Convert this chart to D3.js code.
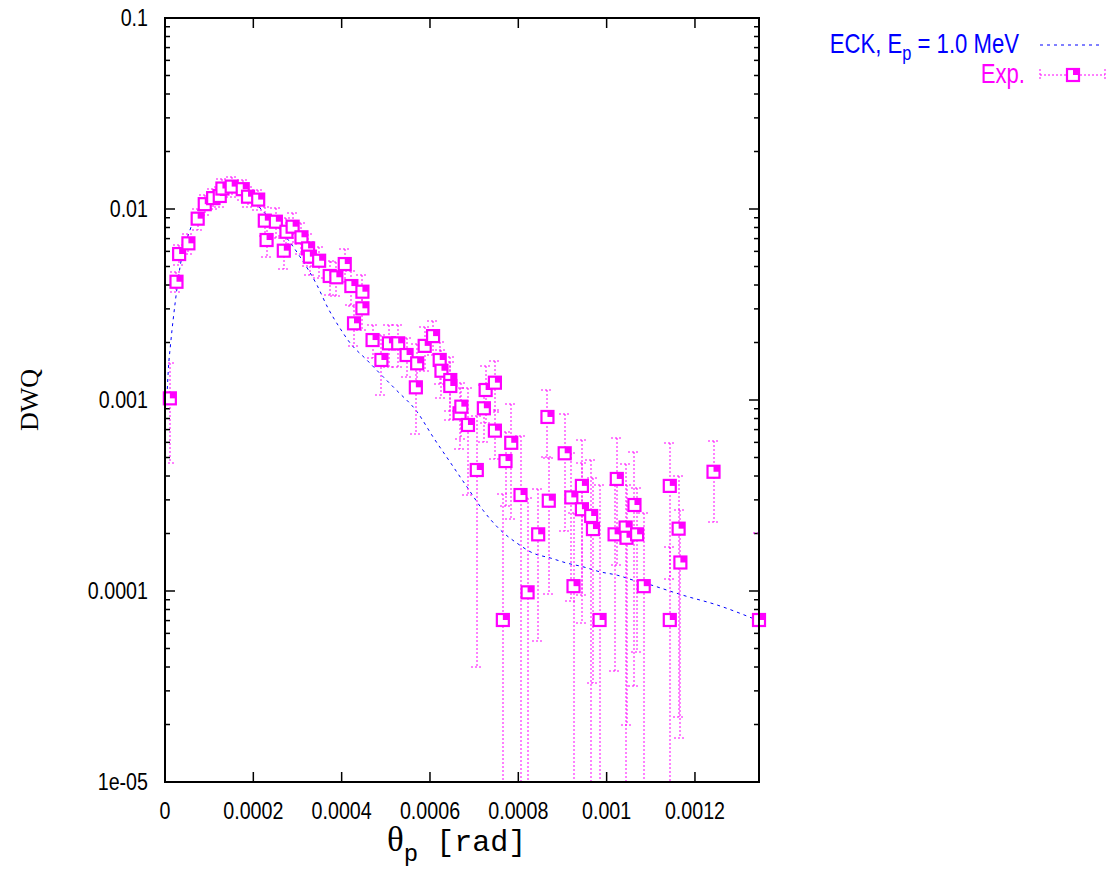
<!DOCTYPE html>
<html><head><meta charset="utf-8">
<script src="https://cdn.jsdelivr.net/npm/d3@7"></script>
<style>
body{margin:0;background:#fff;}
svg{display:block;}
</style></head>
<body>
<svg id="chart" width="1117" height="888"></svg>
<script>
// ---- data ----
const thetaExp = [1.1e-5,2.6e-5,3.2e-5,5.3e-5,7.4e-5,9.0e-5,1.09e-4,1.24e-4,1.30e-4,1.51e-4,1.76e-4,1.88e-4,2.11e-4,
 2.26e-4,2.30e-4,2.51e-4,2.69e-4,2.75e-4,2.89e-4,3.09e-4,3.24e-4,3.28e-4,3.49e-4,3.73e-4,3.88e-4,4.07e-4,4.22e-4,4.28e-4,4.47e-4,4.47e-4,
 4.70e-4,4.90e-4,5.07e-4,5.28e-4,5.47e-4,5.68e-4,5.71e-4,5.88e-4,6.07e-4,6.22e-4,6.26e-4,6.46e-4,6.46e-4,6.67e-4,6.71e-4,6.86e-4,
 7.06e-4,7.22e-4,7.26e-4,7.47e-4,7.47e-4,7.65e-4,7.71e-4,7.84e-4,8.05e-4,8.21e-4,8.45e-4,8.66e-4,8.69e-4,9.05e-4,9.20e-4,9.25e-4,
 9.44e-4,9.44e-4,9.65e-4,9.69e-4,9.84e-4,1.018e-3,1.023e-3,1.043e-3,1.045e-3,1.063e-3,1.069e-3,1.084e-3,1.143e-3,1.143e-3,1.163e-3,
 1.167e-3,1.242e-3,1.345e-3];
const dwqExp = [0.00102,0.00416,0.00581,0.00661,0.0089,0.0106,0.0114,0.0117,0.0128,0.0131,0.0127,0.0116,0.0112,
 0.00869,0.00688,0.00858,0.00605,0.0076,0.00808,0.00711,0.00622,0.00563,0.00536,0.00446,0.00439,0.00515,0.00395,0.00252,0.00369,0.00302,
 0.00206,0.00162,0.00198,0.00198,0.00172,0.001165,0.001556,0.00192,0.00216,0.00162,0.001423,0.001272,0.001184,0.000852,0.000923,0.00074,
 0.00043,0.000905,0.001128,0.001232,0.000691,7.05e-5,0.000479,0.000597,0.000318,9.84e-5,0.000198,0.000815,0.000297,0.000526,0.000309,0.000106,
 0.000355,0.000268,0.000247,0.000211,7.05e-5,0.000198,0.000386,0.000215,0.00019,0.000282,0.000198,0.000106,0.000355,7.05e-5,0.000212,
 0.000141,0.000421,7.05e-5];
const dwqErr = [0.00055,0.0005,0.0007,0.0008,0.0011,0.0013,0.0014,0.0014,0.0015,0.0016,0.0015,0.0014,0.0013,
 0.0015,0.0013,0.0015,0.0012,0.0014,0.0015,0.0013,0.0012,0.0011,0.001,0.0009,0.0009,0.001,0.0008,0.0006,0.0008,0.0007,
 0.0004,0.00056,0.0005,0.0005,0.0004,0.0005,0.0004,0.0005,0.00044,0.0004,0.0004,0.0004,0.0004,0.0003,0.0003,0.00042,
 0.00039,0.0003,0.00037,0.00037,0.0002,0.00025,0.0002,0.00036,0.00033,0.00021,0.000143,0.00031,0.0002,0.00032,0.00022,0.00015,
 0.00026,0.0002,0.00024,0.000178,0.00029,0.00016,0.00025,0.00025,0.00017,0.00025,0.00015,0.00015,0.00024,0.0001,0.00019,
 0.000124,0.00019,0.00013];
const thetaTheory = [3.8e-6,7.5e-6,1.29e-5,2.38e-5,3.4e-5,5.66e-5,8.6e-5,1.13e-4,1.47e-4,1.81e-4,2.15e-4,2.67e-4,3.06e-4,3.44e-4,
 3.69e-4,3.96e-4,4.19e-4,4.57e-4,4.93e-4,5.25e-4,5.70e-4,6.07e-4,6.45e-4,6.84e-4,7.20e-4,7.59e-4,7.97e-4,8.33e-4,8.72e-4,9.10e-4,
 9.46e-4,9.85e-4,1.024e-3,1.060e-3,1.098e-3,1.137e-3,1.173e-3,1.250e-3,1.340e-3];
const dwqTheory = [0.000964,0.001436,0.001988,0.003339,0.004969,0.007762,0.01088,0.01213,0.01273,0.01227,0.01012,0.00748,0.00561,0.0040,
 0.00303,0.00238,0.00199,0.00162,0.00133,0.00112,0.000872,0.000640,0.000475,0.00035,0.000265,0.000209,0.000178,0.000158,0.000149,0.00014,
 0.000134,0.000126,0.000121,0.000114,0.000108,0.000101,9.5e-5,8.45e-5,7.05e-5];
const xTicks = [0,0.0002,0.0004,0.0006,0.0008,0.001,0.0012];
const xTickLabels = ["0","0.0002","0.0004","0.0006","0.0008","0.001","0.0012"];
const yTicks = [1e-5,1e-4,1e-3,1e-2,1e-1];
const yTickLabels = ["1e-05","0.0001","0.001","0.01","0.1"];
const seriesNames = ["ECK, E","p"," = 1.0 MeV","Exp."];

// ---- layout ----
const L=165,R=759,T=18,B=782;
const MAG="#ff00ff", BLUE="#0000ff";
const NARROW=0.82;
const svg=d3.select("#chart");
const x=d3.scaleLinear().domain([0,0.001345]).range([L,R]);
const y=d3.scaleLog().domain([1e-5,0.1]).range([B,T]);

svg.append("defs").append("clipPath").attr("id","clip")
  .append("rect").attr("x",L).attr("y",T).attr("width",R-L).attr("height",B-T);

// ticks
const axisG=svg.append("g").attr("stroke","#000").attr("stroke-width",1.5);
xTicks.forEach(t=>{
  axisG.append("line").attr("x1",x(t)).attr("x2",x(t)).attr("y1",B).attr("y2",B-10);
  axisG.append("line").attr("x1",x(t)).attr("x2",x(t)).attr("y1",T).attr("y2",T+10);
});
for(let e=-5;e<=-1;e++){
  for(let m=1;m<=9;m++){
    const v=m*Math.pow(10,e);
    if(v>0.1+1e-12) break;
    const len = m===1?10:5;
    axisG.append("line").attr("x1",L).attr("x2",L+len).attr("y1",y(v)).attr("y2",y(v));
    axisG.append("line").attr("x1",R).attr("x2",R-len).attr("y1",y(v)).attr("y2",y(v));
  }
}
const fontTick="'Liberation Sans','Arial',sans-serif";
svg.append("g").selectAll("text").data(xTicks).join("text")
  .attr("transform",d=>`translate(${x(d)},819) scale(${NARROW},1)`).attr("text-anchor","middle")
  .attr("font-family",fontTick).attr("font-size",24).text((d,i)=>xTickLabels[i]);
svg.append("g").selectAll("text").data(yTicks).join("text")
  .attr("transform",d=>`translate(148,${y(d)+8}) scale(${NARROW},1)`).attr("text-anchor","end")
  .attr("font-family",fontTick).attr("font-size",24).text((d,i)=>yTickLabels[i]);

// theory curve
const line=d3.line().x((d,i)=>x(thetaTheory[i])).y((d,i)=>y(dwqTheory[i])).curve(d3.curveMonotoneX);
svg.append("path").datum(dwqTheory).attr("d",line).attr("clip-path","url(#clip)")
  .attr("fill","none").attr("stroke",BLUE).attr("stroke-width",1).attr("stroke-dasharray","3,4");

// error bars
const eg=svg.append("g").attr("clip-path","url(#clip)").attr("stroke",MAG).attr("stroke-width",1)
  .attr("stroke-dasharray","2,2");
dwqExp.forEach((v,i)=>{
  const cx=Math.round(x(thetaExp[i]));
  const hi=v+dwqErr[i], lo=v-dwqErr[i];
  const yh=Math.round(y(hi)), yl= lo>1e-5 ? Math.round(y(lo)) : B+2;
  eg.append("line").attr("x1",cx).attr("x2",cx).attr("y1",yh).attr("y2",yl);
  eg.append("line").attr("x1",cx-6).attr("x2",cx+6).attr("y1",yh).attr("y2",yh);
  if(lo>1e-5) eg.append("line").attr("x1",cx-6).attr("x2",cx+6).attr("y1",yl).attr("y2",yl);
});

// markers
function marker(g,cx,cy){
  g.append("rect").attr("x",cx-6).attr("y",cy-6).attr("width",12).attr("height",12)
    .attr("fill","#fff").attr("stroke",MAG).attr("stroke-width",2.2);
  g.append("rect").attr("x",cx).attr("y",cy-6).attr("width",6).attr("height",6).attr("fill",MAG);
}
const mg=svg.append("g");
dwqExp.forEach((v,i)=>marker(mg,x(thetaExp[i]),y(v)));

// frame
svg.append("rect").attr("x",L).attr("y",T).attr("width",R-L).attr("height",B-T)
  .attr("fill","none").attr("stroke","#000").attr("stroke-width",2);

// axis labels
const xl=svg.append("text").attr("x",387).attr("y",851).attr("fill","#000");
xl.append("tspan").attr("font-family","'Liberation Serif',serif").attr("font-size",35).text("θ");
xl.append("tspan").attr("font-family","'Liberation Mono',monospace").attr("font-size",24).attr("dy",10).text("p");
xl.append("tspan").attr("font-family","'Liberation Mono',monospace").attr("font-size",30).attr("dy",-10).text(" [rad]");
svg.append("text").attr("transform","translate(38,400) rotate(-90)").attr("text-anchor","middle")
  .attr("font-family","'Liberation Serif',serif").attr("font-size",26).text("DWQ");

// legend
const fontLeg="'Liberation Sans','Arial',sans-serif";
const t1=svg.append("text").attr("transform",`translate(1019,53) scale(${NARROW},1)`).attr("text-anchor","end")
  .attr("font-family",fontLeg).attr("font-size",27).attr("fill",BLUE);
t1.append("tspan").text(seriesNames[0]);
t1.append("tspan").attr("font-size",20).attr("dy",7).text(seriesNames[1]);
t1.append("tspan").attr("dy",-7).text(seriesNames[2]);
svg.append("line").attr("x1",1040).attr("x2",1102).attr("y1",45).attr("y2",45)
  .attr("stroke",BLUE).attr("stroke-width",1).attr("stroke-dasharray","3,4");
svg.append("text").attr("transform",`translate(1025,83) scale(${NARROW},1)`).attr("text-anchor","end")
  .attr("font-family",fontLeg).attr("font-size",27).attr("fill",MAG).text(seriesNames[3]);
const lg=svg.append("g").attr("stroke",MAG).attr("stroke-width",1).attr("stroke-dasharray","2,2");
lg.append("line").attr("x1",1040).attr("x2",1105).attr("y1",75).attr("y2",75);
lg.append("line").attr("x1",1040).attr("x2",1040).attr("y1",69).attr("y2",81);
lg.append("line").attr("x1",1105).attr("x2",1105).attr("y1",69).attr("y2",81);
marker(svg,1073,75);
</script>
</body></html>
